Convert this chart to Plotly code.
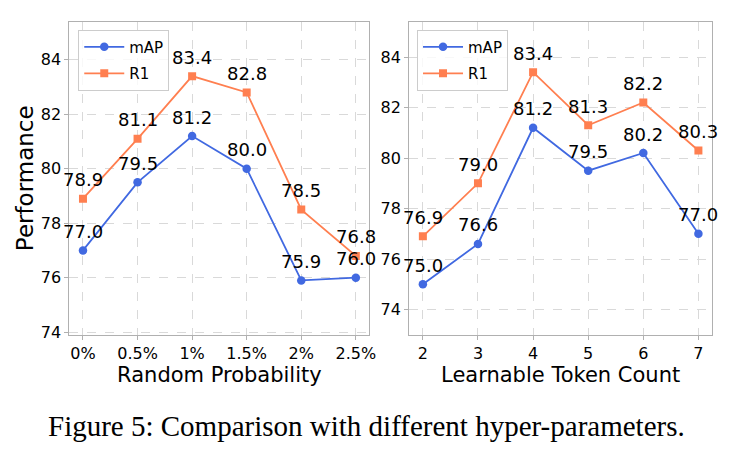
import plotly.graph_objects as go

prob_labels = ["0%", "0.5%", "1%", "1.5%", "2%", "2.5%"]
prob_map = [77.0, 79.5, 81.2, 80.0, 75.9, 76.0]
prob_r1 = [78.9, 81.1, 83.4, 82.8, 78.5, 76.8]

token_counts = [2, 3, 4, 5, 6, 7]
token_map = [75.0, 76.6, 81.2, 79.5, 80.2, 77.0]
token_r1 = [76.9, 79.0, 83.4, 81.3, 82.2, 80.3]

BLUE = "#4169E1"
ORANGE = "#FF7F50"
FONT = "DejaVu Sans"
W, H = 739, 463

fig = go.Figure()
prob_x = list(range(len(prob_labels)))

def add_series(x, ys, xa, ya, legend):
    for name, y, color, sym in [("mAP", ys[0], BLUE, "circle"), ("R1", ys[1], ORANGE, "square")]:
        fig.add_trace(go.Scatter(
            x=x, y=y, name=name, mode="lines+markers",
            line=dict(color=color, width=1.8),
            marker=dict(color=color, symbol=sym, size=8.5 if sym == "circle" else 8),
            xaxis=xa, yaxis=ya, legend=legend, legendgroup=legend + name,
            showlegend=True))
        for xi, yi in zip(x, y):
            fig.add_annotation(x=xi, y=yi, xref=xa, yref=ya, text=f"{yi:.1f}",
                               showarrow=False, yshift=19,
                               font=dict(family=FONT, size=18, color="black"))

add_series(prob_x, [prob_map, prob_r1], "x", "y", "legend")
add_series(token_counts, [token_map, token_r1], "x2", "y2", "legend2")

def px_x(v):
    return v / W

def px_y(v):
    return 1 - v / H

axis_common = dict(showline=True, mirror=True, linecolor="#b0b0b0", linewidth=1,
                   showgrid=True, gridcolor="#d9d9d9", griddash="dash", gridwidth=1,
                   ticks="outside", ticklen=4, tickcolor="#b0b0b0",
                   tickfont=dict(family=FONT, size=16, color="black"),
                   zeroline=False)

legend_common = dict(xanchor="left", yanchor="top",
                     bgcolor="rgba(255,255,255,0.8)", bordercolor="#cccccc", borderwidth=1,
                     font=dict(family=FONT, size=15, color="black"),
                     tracegroupgap=4, itemwidth=40)

fig.update_layout(
    width=W, height=H, margin=dict(l=0, r=0, t=0, b=0),
    plot_bgcolor="white", paper_bgcolor="white",
    xaxis=dict(domain=[px_x(70), px_x(373)], range=[-0.25, 5.25],
               tickmode="array", tickvals=prob_x, ticktext=prob_labels,
               title=dict(text="Random Probability", font=dict(family=FONT, size=21, color="black"), standoff=2),
               anchor="y", **axis_common),
    yaxis=dict(domain=[px_y(340), px_y(22)], range=[73.9, 85.4], dtick=2,
               title=dict(text="Performance", font=dict(family=FONT, size=23, color="black"), standoff=0),
               anchor="x", **axis_common),
    xaxis2=dict(domain=[px_x(413), px_x(719)], range=[1.75, 7.25],
                tickmode="array", tickvals=token_counts, ticktext=[str(t) for t in token_counts],
                title=dict(text="Learnable Token Count", font=dict(family=FONT, size=21, color="black"), standoff=2),
                anchor="y2", **axis_common),
    yaxis2=dict(domain=[px_y(340), px_y(22)], range=[73.0, 85.4], dtick=2,
                anchor="x2", **axis_common),
    legend=dict(x=px_x(79), y=px_y(30), **legend_common),
    legend2=dict(x=px_x(421), y=px_y(30), **legend_common),
    showlegend=True,
)

fig.add_annotation(x=0.5, y=px_y(433), xref="paper", yref="paper",
                   text="Figure 5: Comparison with different hyper-parameters.",
                   showarrow=False, xanchor="center", yanchor="middle",
                   font=dict(family="Liberation Serif", size=29, color="black"))

fig.write_html("out.html")
